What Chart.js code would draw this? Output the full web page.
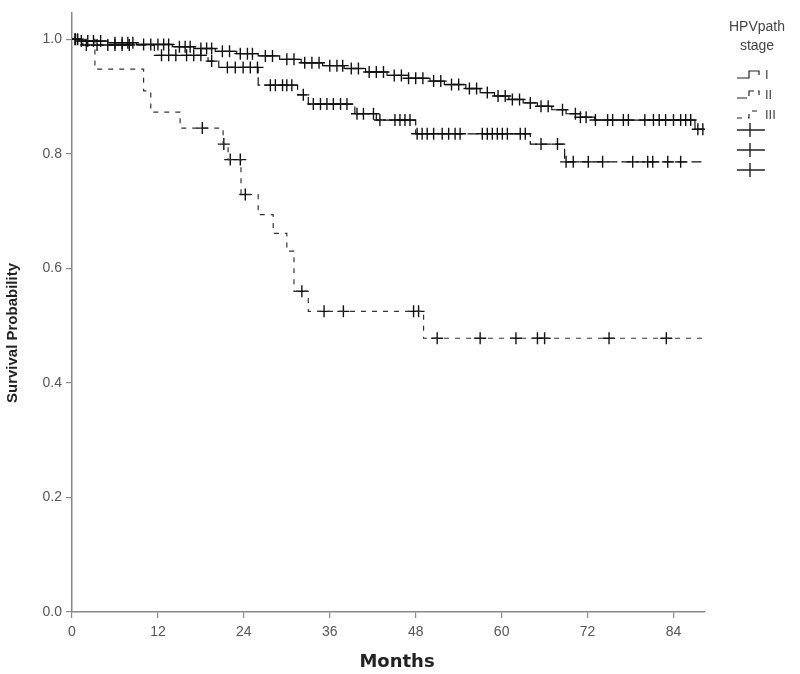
<!DOCTYPE html>
<html>
<head>
    <meta charset="UTF-8">
    <title>Survival by HPVpath stage</title>
    <script src="https://cdn.jsdelivr.net/npm/chart.js@4.4.1/dist/chart.umd.min.js"></script>
    <style>
        body {
            margin: 0;
            background: #fff;
        }
        .chart-container {
            width: 800px;
            height: 674px;
            position: relative;
        }
    </style>
</head>
<body>
<div class="chart-container">
    <canvas id="kmChart"></canvas>
</div>
<script>
    // Data
    const stageLabels = ['I', 'II', 'III'];
    const xTicks = [0, 12, 24, 36, 48, 60, 72, 84];
    const yTicks = [0, 0.2, 0.4, 0.6, 0.8, 1.0];

    // step times (months) and survival after each step
    const stage1Times = [0, 1, 5, 9, 14, 17, 20, 23, 26, 29, 32, 35, 38, 41, 44, 47, 50, 52, 55, 57, 59, 61, 63, 65, 67, 69, 71, 73, 87];
    const stage1Surv  = [1.0, 0.997, 0.994, 0.991, 0.987, 0.984, 0.979, 0.975, 0.971, 0.965, 0.959, 0.954, 0.949, 0.943, 0.937, 0.932, 0.927, 0.921, 0.914, 0.907, 0.901, 0.895, 0.889, 0.883, 0.877, 0.870, 0.864, 0.859, 0.843];
    const stage1End = 88.2;
    const stage1Censor = [0.4, 0.8, 1.3, 2.2, 3, 4, 6, 7, 7.8, 8.5, 10, 11, 12, 12.8, 13.5, 15, 15.8, 16.5, 18, 18.8, 19.5, 21, 22, 23.5, 24.5, 25.2, 27, 28, 30, 31, 32.5, 33.5, 34.5, 36, 37, 37.8, 39, 40, 41.5, 42.5, 43.5, 45, 46, 47, 48, 49, 50.5, 51.5, 53, 54, 55.5, 56.5, 58, 59.5, 60.5, 61.5, 62.5, 64, 65.5, 66.5, 68.5, 70.3, 71, 71.8, 73.1, 74.8, 75.5, 77, 77.7, 80, 81.2, 82, 82.9, 84, 85, 85.7, 86.4, 87.4, 88.1];

    const stage2Times = [0, 1.5, 11.5, 19, 20.5, 26, 31.5, 33, 39.5, 42.5, 48, 64, 68.8];
    const stage2Surv  = [1.0, 0.99, 0.972, 0.962, 0.951, 0.92, 0.903, 0.887, 0.87, 0.859, 0.835, 0.817, 0.786];
    const stage2End = 88.2;
    const stage2Censor = [0.5, 2, 3.5, 5, 6, 7, 8, 12.5, 13.5, 14.5, 16, 17, 18, 19.5, 21.7, 22.8, 23.9, 24.9, 25.9, 27.7, 28.4, 29.4, 30, 30.7, 32.3, 33.7, 34.7, 35.6, 36.5, 37.5, 38.4, 39.8, 40.7, 42.1, 43, 45.1, 45.8, 46.5, 47.2, 48.2, 48.9, 49.6, 50.5, 51.7, 52.6, 53.5, 54.2, 57.3, 58, 58.7, 59.4, 60.1, 60.8, 62.6, 63.3, 65.5, 67.8, 69, 70, 72.1, 74.1, 78.3, 80.4, 81.1, 83.2, 85];

    const stage3Times = [0, 3.2, 10, 11, 15.1, 21.1, 21.8, 23.6, 26, 28.1, 30, 31, 33, 49.1];
    const stage3Surv  = [1.0, 0.948, 0.91, 0.873, 0.845, 0.817, 0.79, 0.729, 0.694, 0.661, 0.63, 0.56, 0.525, 0.478];
    const stage3End = 88.3;
    const stage3Censor = [18.2, 21.2, 22.1, 23.5, 24.2, 32.1, 35.2, 37.9, 47.7, 48.4, 51, 57, 62, 65, 66, 75, 83];

    const dashes = [[], [10, 4], [5, 6]];

    // helpers
    function stepPoints(times, surv, end) {
        const pts = times.map((t, i) => ({x: t, y: surv[i]}));
        pts.push({x: end, y: surv[surv.length - 1]});
        return pts;
    }
    function survAt(times, surv, t) {
        let s = surv[0];
        for (let i = 0; i < times.length; i++) {
            if (times[i] <= t) s = surv[i];
        }
        return s;
    }
    function censorPoints(times, surv, cens) {
        return cens.map(t => ({x: t, y: survAt(times, surv, t)}));
    }

    const groups = [
        [stage1Times, stage1Surv, stage1End, stage1Censor],
        [stage2Times, stage2Surv, stage2End, stage2Censor],
        [stage3Times, stage3Surv, stage3End, stage3Censor]
    ];

    const datasets = [];
    groups.forEach((g, i) => {
        datasets.push({
            label: stageLabels[i],
            data: stepPoints(g[0], g[1], g[2]),
            showLine: true,
            stepped: 'before',
            borderColor: i === 2 ? '#333' : '#111',
            borderWidth: 1.2,
            borderDash: dashes[i],
            pointRadius: 0,
            fill: false
        });
    });
    groups.forEach((g, i) => {
        datasets.push({
            label: stageLabels[i] + ' censored',
            data: censorPoints(g[0], g[1], g[3]),
            showLine: false,
            pointStyle: 'cross',
            pointRadius: 6,
            pointBorderWidth: 1.4,
            borderColor: '#111',
            backgroundColor: '#111'
        });
    });

    // Legend and axis titles drawn like the SPSS output
    const kmLegend = {
        id: 'kmLegend',
        afterDraw(chart) {
            const ctx = chart.ctx;
            const area = chart.chartArea;
            const x0 = area.right + 32;
            ctx.save();

            // axis titles
            ctx.fillStyle = '#222';
            ctx.textAlign = 'center';
            ctx.textBaseline = 'middle';
            ctx.font = 'bold 18px "DejaVu Sans", Verdana, sans-serif';
            ctx.fillText('Months', area.left + 325, 662);
            ctx.save();
            ctx.translate(13, 333);
            ctx.rotate(-Math.PI / 2);
            ctx.font = 'bold 15px "Liberation Sans", Arial, sans-serif';
            ctx.fillText('Survival Probability', 0, 0);
            ctx.restore();

            // legend
            ctx.fillStyle = '#444';
            ctx.font = '14px "Liberation Sans", Arial, sans-serif';
            ctx.fillText('HPVpath', x0 + 20, 27);
            ctx.fillText('stage', x0 + 20, 46);

            ctx.strokeStyle = '#222';
            ctx.lineWidth = 1.2;
            const rows = [78, 98, 118];
            stageLabels.forEach((lab, i) => {
                const yb = rows[i];
                ctx.setLineDash(dashes[i]);
                ctx.beginPath();
                ctx.moveTo(x0, yb);
                ctx.lineTo(x0 + 12, yb);
                ctx.lineTo(x0 + 12, yb - 7);
                ctx.lineTo(x0 + 22, yb - 7);
                ctx.lineTo(x0 + 22, yb - 3);
                ctx.stroke();
                ctx.setLineDash([]);
                ctx.font = '13px "Liberation Sans", Arial, sans-serif';
                ctx.textAlign = 'left';
                ctx.fillText(lab, x0 + 28, yb - 3);
            });

            ctx.lineWidth = 1.4;
            [130, 150, 170].forEach(yc => {
                ctx.beginPath();
                ctx.moveTo(x0, yc);
                ctx.lineTo(x0 + 28, yc);
                ctx.moveTo(x0 + 13, yc - 7);
                ctx.lineTo(x0 + 13, yc + 7);
                ctx.stroke();
            });
            ctx.restore();
        }
    };

    Chart.defaults.font.family = '"Liberation Sans", Arial, sans-serif';

    const ctx = document.getElementById('kmChart').getContext('2d');
    new Chart(ctx, {
        type: 'scatter',
        data: { datasets: datasets },
        options: {
            responsive: true,
            maintainAspectRatio: false,
            animation: false,
            events: [],
            layout: { padding: { top: 5, right: 95, left: 0, bottom: 0 } },
            plugins: {
                legend: { display: false },
                tooltip: { enabled: false }
            },
            scales: {
                x: {
                    type: 'linear',
                    min: 0,
                    max: 88.4,
                    afterBuildTicks: s => { s.ticks = xTicks.map(v => ({value: v})); },
                    afterFit: s => { s.height = 62; },
                    ticks: {
                        color: '#555',
                        font: { size: 14 },
                        padding: 6,
                        maxRotation: 0
                    },
                    grid: { drawOnChartArea: false, drawTicks: true, tickLength: 6, color: '#888', lineWidth: 1.2 },
                    border: { display: true, color: '#888', width: 1.5 }
                },
                y: {
                    type: 'linear',
                    min: 0,
                    max: 1.047,
                    afterBuildTicks: s => { s.ticks = yTicks.map(v => ({value: v})); },
                    afterFit: s => { s.width = 72; },
                    ticks: {
                        color: '#555',
                        font: { size: 14 },
                        padding: 4,
                        callback: v => v.toFixed(1)
                    },
                    grid: { drawOnChartArea: false, drawTicks: true, tickLength: 6, color: '#888', lineWidth: 1.2 },
                    border: { display: true, color: '#888', width: 1.5 }
                }
            }
        },
        plugins: [kmLegend]
    });
</script>
</body>
</html>
